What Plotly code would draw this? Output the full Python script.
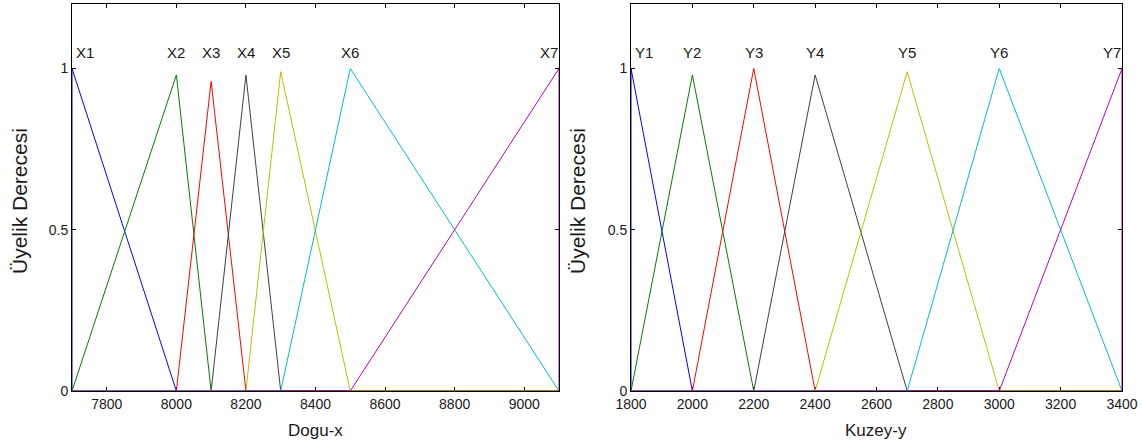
import plotly.graph_objects as go

# ---- data (triangular membership functions) ----
x_names = ["X1", "X2", "X3", "X4", "X5", "X6", "X7"]
x_left = [7700, 7700, 8000, 8100, 8200, 8300, 8500]
x_peak = [7700, 8000, 8100, 8200, 8300, 8500, 9100]
x_right = [8000, 8100, 8200, 8300, 8500, 9100, 9100]
x_height = [1.0, 0.98, 0.96, 0.98, 0.99, 1.0, 1.0]
x_range = [7700, 9100]
x_ticks = [7800, 8000, 8200, 8400, 8600, 8800, 9000]

y_names = ["Y1", "Y2", "Y3", "Y4", "Y5", "Y6", "Y7"]
y_left = [1800, 1800, 2000, 2200, 2400, 2700, 3000]
y_peak = [1800, 2000, 2200, 2400, 2700, 3000, 3400]
y_right = [2000, 2200, 2400, 2700, 3000, 3400, 3400]
y_height = [1.0, 0.98, 1.0, 0.98, 0.99, 1.0, 1.0]
y_range = [1800, 3400]
y_ticks = [1800, 2000, 2200, 2400, 2600, 2800, 3000, 3200, 3400]

colors = ["#0000ff", "#008000", "#ff0000", "#404040", "#bfbf00", "#00bfbf", "#bf00bf"]

W, H = 1143, 445
FONT = "Liberation Sans, Arial, sans-serif"


def px(v):
    return v / W


def py(v):
    return 1 - v / H


fig = go.Figure()


def add_mfs(names, left, peak, right, height, rng, xa, ya):
    for i, n in enumerate(names):
        xs = [rng[0], left[i], peak[i], right[i], rng[1]]
        ys = [0, 0, height[i], 0, 0]
        fig.add_trace(go.Scatter(x=xs, y=ys, mode="lines", name=n,
                                 line=dict(color=colors[i], width=1),
                                 xaxis=xa, yaxis=ya, showlegend=False,
                                 hoverinfo="skip"))
        shift = 0
        if i == 0:
            shift = 13
        elif i == len(names) - 1:
            shift = -10
        fig.add_annotation(x=peak[i], y=1.05, text=n, xref=xa, yref=ya,
                           showarrow=False, xanchor="center", yanchor="middle",
                           xshift=shift, font=dict(family=FONT, size=15, color="#1a1a1a"))


add_mfs(x_names, x_left, x_peak, x_right, x_height, x_range, "x", "y")
add_mfs(y_names, y_left, y_peak, y_right, y_height, y_range, "x2", "y2")

ydom = [py(391), py(4)]
axis_common = dict(showline=True, linecolor="black", linewidth=1, mirror="ticks",
                   ticks="inside", ticklen=4, tickcolor="black", tickwidth=1,
                   showgrid=False, zeroline=False, layer="below traces",
                   automargin=False,
                   tickfont=dict(family=FONT, size=14, color="#1a1a1a"))

fig.update_layout(
    width=W, height=H, margin=dict(l=0, r=0, t=0, b=0, pad=0, autoexpand=False),
    paper_bgcolor="white", plot_bgcolor="white",
    xaxis=dict(domain=[px(72), px(559)], range=x_range, tickvals=x_ticks,
               anchor="y", **axis_common),
    yaxis=dict(domain=ydom, range=[0, 1.2], tickvals=[0, 0.5, 1],
               ticktext=["0", "0.5", "1"], anchor="x", **axis_common),
    xaxis2=dict(domain=[px(631), px(1122)], range=y_range, tickvals=y_ticks,
                anchor="y2", **axis_common),
    yaxis2=dict(domain=ydom, range=[0, 1.2], tickvals=[0, 0.5, 1],
                ticktext=["0", "0.5", "1"], anchor="x2", **axis_common),
)

# axis titles
title_font = dict(family=FONT, size=17, color="#1a1a1a")
ytitle_font = dict(family=FONT, size=21, color="#1a1a1a")
fig.add_annotation(x=px((72 + 559) / 2), y=py(430), xref="paper", yref="paper",
                   text="Dogu-x", showarrow=False, font=title_font,
                   xanchor="center", yanchor="middle")
fig.add_annotation(x=px((631 + 1122) / 2), y=py(430), xref="paper", yref="paper",
                   text="Kuzey-y", showarrow=False, font=title_font,
                   xanchor="center", yanchor="middle")
fig.add_annotation(x=px(19), y=py(201), xref="paper", yref="paper",
                   text="Üyelik Derecesi", showarrow=False, font=ytitle_font,
                   textangle=-90, xanchor="center", yanchor="middle")
fig.add_annotation(x=px(577), y=py(201), xref="paper", yref="paper",
                   text="Üyelik Derecesi", showarrow=False, font=ytitle_font,
                   textangle=-90, xanchor="center", yanchor="middle")

fig.write_html("out.html",
               config={"displayModeBar": False},
               post_script="document.body.style.margin='0';"
                           "document.body.style.overflow='hidden';")
